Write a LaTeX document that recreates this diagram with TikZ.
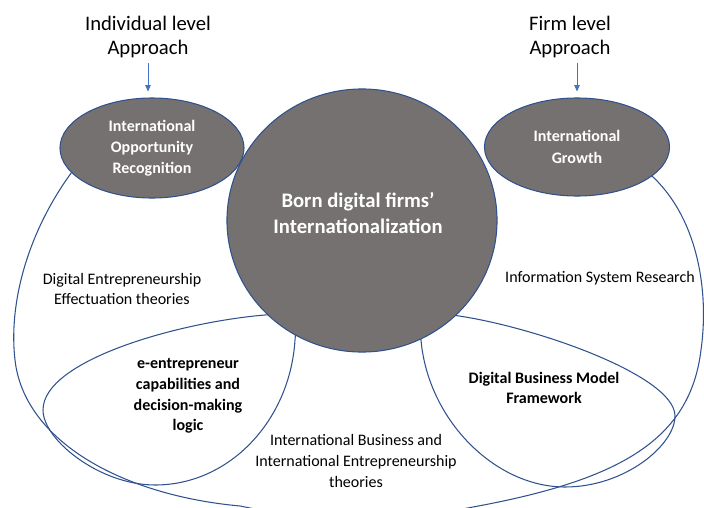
\documentclass[tikz,border=0pt]{standalone}
\usepackage{fontspec}
\setmainfont{Carlito}
\usetikzlibrary{shapes.geometric, arrows.meta, positioning}
\definecolor{bubblegrey}{HTML}{767171}
\definecolor{rimblue}{HTML}{2F528F}
\definecolor{pointblue}{HTML}{4472C4}
\tikzstyle{bubble} = [ellipse, draw=rimblue, fill=bubblegrey, line width=0.75pt, text=white, font=\bfseries\fontsize{11.4}{15.1}\selectfont, align=center, inner sep=0pt]
\tikzstyle{core} = [text=white, font=\bfseries\fontsize{14.7}{18.4}\selectfont, align=center]
\tikzstyle{level} = [font=\fontsize{14.7}{17.7}\selectfont, align=center]
\tikzstyle{theory} = [font=\fontsize{11.4}{14.9}\selectfont, align=center]
\tikzstyle{focus} = [font=\bfseries\fontsize{11.4}{14.8}\selectfont, align=center]
\tikzstyle{outline} = [draw=rimblue, line width=0.75pt]
\tikzstyle{arrow} = [draw=pointblue, line width=0.6pt, -{Triangle[length=4.5pt,width=3.8pt]}]

\begin{document}
\begin{tikzpicture}[x=0.025cm, y=-0.025cm]
    \useasboundingbox (0,0) rectangle (704,507);
    \clip (0,0) rectangle (704,507);

    % outer theory arcs, partly hidden by the bubbles
    \draw [outline] (78,164) .. controls (30,225) and (8,300) .. (15,360)
        .. controls (24,440) and (120,495) .. (240,506) -- (300,518);
    \draw [outline] (645,170) .. controls (695,210) and (710,285) .. (701,350)
        .. controls (690,440) and (620,480) .. (473,507) -- (420,517);

    % inner loops, their upper ends go under the centre bubble
    \draw [outline] (43,410) .. controls (43,440) and (100,485) .. (155,485)
        .. controls (230,485) and (290,420) .. (295,340)
        .. controls (298,310) and (285,313) .. (265,315)
        .. controls (180,322) and (43,360) .. cycle;
    \draw [outline] (675,416) .. controls (675,445) and (625,487) .. (565,487)
        .. controls (495,487) and (428,420) .. (421,340)
        .. controls (418,312) and (432,314) .. (452,315)
        .. controls (530,325) and (675,375) .. cycle;

    % bubbles
    \node (opp) [bubble, minimum width=4.6cm, minimum height=2.5cm] at (152,148) {International\\Opportunity\\Recognition};
    \node (growth) [bubble, minimum width=4.625cm, minimum height=2.45cm] at (577,147) {International\\Growth};
    \node (bdf) [bubble, minimum width=6.75cm, minimum height=6.575cm] at (362,220.5) {};
    \node (bdftext) [core] at (358,213) {Born digital firms’\\Internationalization};

    % labels
    \node (indiv) [level] at (148,37) {Individual level\\Approach};
    \node (firm) [level] at (570,37) {Firm level\\Approach};
    \node (de) [theory] at (122,289) {Digital Entrepreneurship\\Effectuation theories};
    \node (isr) [theory] at (600,278) {Information System Research};
    \node (ib) [theory] at (356,461) {International Business and\\International Entrepreneurship\\theories};
    \node (ecap) [focus] at (188,396) {e-entrepreneur\\capabilities and\\decision-making\\logic};
    \node (dbm) [focus] at (544,388) {Digital Business Model\\Framework};

    \draw [arrow, shorten >=4.2pt] (indiv.south) -- (indiv.south |- opp.north);
    \draw [arrow, shorten >=4.2pt] (firm.south -| growth.north) -- (growth.north);
\end{tikzpicture}
\end{document}
